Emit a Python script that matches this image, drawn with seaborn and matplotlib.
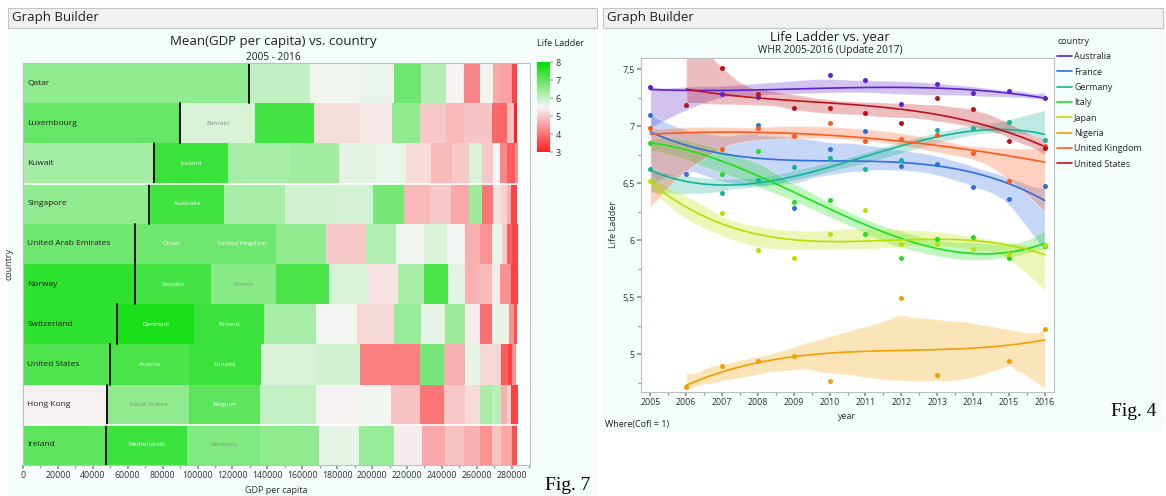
import numpy as np
import pandas as pd
import matplotlib
matplotlib.use("Agg")
import matplotlib.pyplot as plt
import seaborn as sns
from matplotlib.colors import LinearSegmentedColormap, TwoSlopeNorm
from matplotlib.patches import Rectangle
from matplotlib.lines import Line2D
from matplotlib.collections import PolyCollection
from matplotlib.ticker import MultipleLocator, FuncFormatter
import matplotlib.cm as cm

# ---------------- Left chart data (GDP per capita in thousands, Life Ladder) ----------------
row_countries = ["Qatar", "Luxembourg", "Kuwait", "Singapore", "United Arab Emirates",
                 "Norway", "Switzerland", "United States", "Hong Kong", "Ireland"]

gdp_qatar = [129.3, 35.4, 27.6, 20.5, 15.5, 14.3, 10.3, 8.8, 7.4, 4.4, 6.9, 2.7]
ll_qatar = [6.53, 6.01, 5.55, 5.61, 6.86, 6.15, 5.45, 4.23, 5.55, 4.63, 4.51, 3.44]
gdp_luxembourg = [90.1, 43.0, 33.4, 26.8, 18.2, 15.8, 14.9, 10.3, 16.5, 8.4, 4.0, 1.9]
ll_luxembourg = [6.96, 5.8, 7.3, 5.21, 5.33, 6.53, 4.98, 4.8, 4.95, 3.86, 4.9, 3.05]
gdp_kuwait = [75.2, 42.5, 34.7, 28.5, 21.6, 17.2, 14.3, 12.0, 9.8, 7.4, 6.2, 4.1, 3.9, 4.7, 1.6]
ll_kuwait = [6.32, 7.39, 6.3, 6.35, 5.68, 5.6, 5.2, 4.8, 4.98, 5.8, 4.98, 5.5, 4.23, 3.76, 4.35]
gdp_singapore = [72.2, 43.2, 34.9, 27.7, 22.6, 17.5, 15.3, 12.1, 10.3, 7.3, 6.3, 4.7, 3.3, 2.4, 3.5]
ll_singapore = [6.53, 7.33, 6.3, 5.88, 5.85, 6.8, 4.8, 4.98, 4.6, 6.4, 4.05, 5.27, 5.1, 4.7, 3.44]
gdp_uae = [64.4, 41.8, 39.0, 28.6, 22.8, 17.3, 16.1, 13.2, 10.3, 8.6, 6.9, 5.5, 2.9, 3.0, 3.1]
ll_uae = [6.86, 6.86, 6.86, 6.53, 4.98, 6.2, 5.55, 5.8, 5.52, 4.7, 4.35, 5.65, 4.98, 3.76, 3.5]
gdp_norway = [64.0, 43.9, 37.3, 30.3, 22.0, 17.4, 15.1, 13.6, 9.9, 8.0, 7.3, 4.7, 6.3, 3.9]
ll_norway = [7.53, 7.3, 6.62, 7.25, 5.8, 5.27, 6.3, 7.22, 5.68, 4.7, 4.8, 5.42, 4.35, 3.4]
gdp_switzerland = [53.9, 44.3, 39.7, 30.2, 23.3, 21.4, 15.3, 13.9, 11.5, 8.6, 6.9, 9.3, 2.9, 1.9]
ll_switzerland = [7.53, 7.73, 7.39, 6.3, 5.52, 5.15, 6.45, 5.62, 6.4, 5.42, 3.96, 5.65, 4.35, 3.6]
gdp_us = [50.0, 44.9, 41.7, 31.5, 25.2, 34.4, 13.7, 12.1, 8.6, 12.0, 3.6, 2.7, 2.3]
ll_us = [7.18, 7.25, 7.39, 5.8, 5.9, 4.15, 6.78, 4.7, 5.65, 5.15, 3.76, 3.4, 4.35]
gdp_hongkong = [48.1, 47.2, 40.7, 32.1, 25.2, 17.6, 16.8, 13.7, 12.1, 8.6, 6.7, 5.3, 3.3, 2.4, 4.1]
ll_hongkong = [5.45, 6.53, 7.05, 6.0, 5.45, 5.55, 4.9, 4.05, 4.98, 5.18, 6.3, 6.1, 4.7, 5.1, 3.4]
gdp_ireland = [47.3, 46.9, 41.8, 33.4, 22.9, 20.5, 15.9, 13.3, 10.5, 9.6, 6.9, 5.1, 6.3, 2.7]
ll_ireland = [7.05, 7.39, 6.68, 6.53, 5.65, 6.45, 5.42, 4.6, 4.9, 4.7, 4.35, 4.9, 4.62, 3.6]

inner_labels = [[], ["Bahrain"], ["Iceland"], ["Australia"], ["Oman", "United Kingdom"],
                ["Sweden", "France"], ["Denmark", "Finland"], ["Austria", "Canada"],
                ["Saudi Arabia", "Belgium"], ["Netherlands", "Germany"]]

row_gdp = [gdp_qatar, gdp_luxembourg, gdp_kuwait, gdp_singapore, gdp_uae,
           gdp_norway, gdp_switzerland, gdp_us, gdp_hongkong, gdp_ireland]
row_ll = [ll_qatar, ll_luxembourg, ll_kuwait, ll_singapore, ll_uae,
          ll_norway, ll_switzerland, ll_us, ll_hongkong, ll_ireland]

gdp_ticks = list(range(0, 280001, 20000))
ll_ticks = [3, 4, 5, 6, 7, 8]

# ---------------- Right chart data (Life Ladder by year) ----------------
nan = np.nan
years = [2005, 2006, 2007, 2008, 2009, 2010, 2011, 2012, 2013, 2014, 2015, 2016]
australia = [7.345, nan, 7.287, 7.257, nan, 7.453, 7.409, 7.199, 7.368, 7.292, 7.313, 7.251]
france = [7.096, 6.585, nan, 7.009, 6.287, 6.80, 6.962, 6.655, 6.673, 6.471, 6.363, 6.48]
germany = [6.623, nan, 6.418, 6.526, 6.643, 6.725, 6.626, 6.705, 6.971, 6.988, 7.041, 6.877]
italy = [6.857, nan, 6.579, 6.784, 6.339, 6.357, 6.058, 5.842, 6.012, 6.029, 5.848, 5.95]
japan = [6.518, nan, 6.24, 5.912, 5.848, 6.058, 6.266, 5.97, 5.965, 5.924, 5.883, 5.956]
nigeria = [nan, 4.713, 4.895, 4.944, 4.982, 4.763, nan, 5.497, 4.822, nan, 4.939, 5.222]
united_kingdom = [6.985, nan, 6.804, 6.988, 6.912, 7.032, 6.874, 6.886, 6.921, 6.763, 6.518, 6.827]
united_states = [nan, 7.184, 7.515, 7.28, 7.16, 7.164, 7.12, 7.029, 7.251, 7.155, 6.868, 6.807]

series_names = ["Australia", "France", "Germany", "Italy", "Japan", "Nigeria",
                "United Kingdom", "United States"]
series_values = [australia, france, germany, italy, japan, nigeria, united_kingdom, united_states]
series_colors = ["#5a24cc", "#2f6fe0", "#15b398", "#1ee01e", "#b8e000", "#f0a000",
                 "#ff5a1e", "#c0101a"]

# ---------------- Figure ----------------
sns.set_theme(style="white")
plt.rcParams['font.family'] = ['Open Sans', 'DejaVu Sans']

W, H = 1166, 496
fig = plt.figure(figsize=(W / 100, H / 100), dpi=100)
fig.patch.set_facecolor('white')


def fx(x):
    return x / W


def fy(y):
    return 1 - y / H


def box(x0, y0, x1, y1, fc, ec='none', lw=0.0):
    fig.add_artist(Rectangle((fx(x0), fy(y1)), (x1 - x0) / W, (y1 - y0) / H,
                             transform=fig.transFigure, facecolor=fc, edgecolor=ec,
                             linewidth=lw, zorder=-10))


box(8, 28, 597, 496, '#f5fcfc')
box(8, 8, 597, 28, '#f0f0f0', '#c4c4c4', 0.8)
box(603, 28, 1163, 432, '#f5fcfc')
box(603, 8, 1163, 28, '#f0f0f0', '#c4c4c4', 0.8)
fig.text(fx(12), fy(18), "Graph Builder", fontsize=9.5, ha='left', va='center', color='#202020')
fig.text(fx(607), fy(18), "Graph Builder", fontsize=9.5, ha='left', va='center', color='#202020')

# ---------------- Left chart ----------------
cmap = LinearSegmentedColormap.from_list('rwg', ['#ff1e1e', '#f5f5f5', '#00dc00'])
norm = TwoSlopeNorm(vmin=3, vcenter=5.5, vmax=8)

ax1 = fig.add_axes([fx(23), fy(465), (530 - 23) / W, (465 - 63) / H])
ax1.set_facecolor('white')
for i, (name, widths, vals, inner) in enumerate(zip(row_countries, row_gdp, row_ll, inner_labels)):
    w = np.array(widths) * 1000.0
    left = np.concatenate([[0.0], np.cumsum(w)[:-1]])
    ax1.barh(i, w, left=left, height=1.0, color=cmap(norm(np.array(vals))), edgecolor='none')
    ax1.plot([w[0], w[0]], [i - 0.5, i + 0.5], color='black', lw=1.3)
    ax1.text(2500, i, name, ha='left', va='center', fontsize=6, color='#202020')
    for k, lab in enumerate(inner, start=1):
        col = '#f0fff0' if vals[k] > 6.7 else '#8a8a8a'
        ax1.text(left[k] + w[k] / 2, i, lab, ha='center', va='center', fontsize=4.6, color=col)
for sep in (2.5, 8.5):
    ax1.axhline(sep, color='white', lw=1.2)

ax1.set_xlim(0, 290500)
ax1.set_ylim(9.5, -0.5)
ax1.set_yticks([])
ax1.set_xticks(gdp_ticks)
ax1.xaxis.set_minor_locator(MultipleLocator(10000))
ax1.xaxis.set_major_formatter(FuncFormatter(lambda v, p: f"{int(v)}"))
ax1.tick_params(axis='x', which='major', labelsize=6.3, length=3, color='#909090', pad=1.5,
                labelcolor='#303030', bottom=True)
ax1.tick_params(axis='x', which='minor', length=2, color='#a0a0a0', bottom=True)
for s in ax1.spines.values():
    s.set_color('#b8c0c0')
    s.set_linewidth(0.8)
ax1.set_xlabel("GDP per capita", fontsize=6.5, color='#303030')
ax1.xaxis.set_label_coords(0.5, -0.052)
ax1.set_ylabel("country", fontsize=6.5, color='#303030')
ax1.yaxis.set_label_coords(-0.018, 0.5)

fig.text(fx(273), fy(41), "Mean(GDP per capita) vs. country", fontsize=9.5, ha='center',
         va='center', color='#202020')
fig.text(fx(273), fy(57), "2005 - 2016", fontsize=7.3, ha='center', va='center', color='#202020')

cax = fig.add_axes([fx(537), fy(152), 13 / W, 90 / H])
cb = fig.colorbar(cm.ScalarMappable(norm=norm, cmap=cmap), cax=cax, ticks=ll_ticks)
cb.outline.set_visible(False)
cb.ax.tick_params(labelsize=6.5, length=2, color='#c0c0c0', pad=2, labelcolor='#303030')
fig.text(fx(537), fy(43), "Life Ladder", fontsize=6.5, ha='left', va='center', color='#202020')

fig.text(fx(568), fy(486), "Fig. 7", family='Liberation Serif', fontsize=14, ha='center',
         va='center', color='black')

# ---------------- Right chart ----------------
ax2 = fig.add_axes([fx(641), fy(392), (1054 - 641) / W, (392 - 58) / H])
ax2.set_facecolor('white')
for name, vals, col in zip(series_names, series_values, series_colors):
    df = pd.DataFrame({'year': years, 'll': vals}).dropna()
    n_before = len(ax2.collections)
    sns.regplot(data=df, x='year', y='ll', order=3, ci=68, n_boot=1000, seed=1, color=col,
                truncate=True,
                scatter_kws=dict(s=13, alpha=1, zorder=4, linewidths=0),
                line_kws=dict(lw=1.2, zorder=3), ax=ax2)
    for coll in ax2.collections[n_before:]:
        if isinstance(coll, PolyCollection):
            coll.set_alpha(0.28)
            coll.set_zorder(1)

ax2.set_xlim(2004.74, 2016.26)
ax2.set_ylim(4.67, 7.6)
ax2.set_xticks(years)
ax2.xaxis.set_minor_locator(MultipleLocator(0.5))
ax2.set_yticks([5, 5.5, 6, 6.5, 7, 7.5])
ax2.yaxis.set_minor_locator(MultipleLocator(0.25))
ax2.yaxis.set_major_formatter(FuncFormatter(lambda v, p: f"{v:g}".replace('.', ',')))
ax2.tick_params(axis='both', which='major', labelsize=6.3, length=3, color='#909090', pad=1.5,
                labelcolor='#303030', bottom=True, left=True)
ax2.tick_params(axis='both', which='minor', length=2, color='#a0a0a0', bottom=True, left=True)
for s in ax2.spines.values():
    s.set_color('#b8c0c0')
    s.set_linewidth(0.8)
ax2.set_xlabel("year", fontsize=6.5, color='#303030')
ax2.xaxis.set_label_coords(0.5, -0.06)
ax2.set_ylabel("Life Ladder", fontsize=6.5, color='#303030')
ax2.yaxis.set_label_coords(-0.055, 0.5)

fig.text(fx(830), fy(37), "Life Ladder vs. year", fontsize=9.5, ha='center', va='center',
         color='#202020')
fig.text(fx(830), fy(50), "WHR 2005-2016 (Update 2017)", fontsize=7.3, ha='center',
         va='center', color='#202020')

handles = [Line2D([0], [0], color=c, lw=1.2) for c in series_colors]
leg = fig.legend(handles, series_names, title="country", loc='upper left',
                 bbox_to_anchor=(fx(1057), fy(37)), frameon=False, fontsize=6.5,
                 title_fontsize=6.5, handlelength=1.7, handletextpad=0.2, labelspacing=0.7,
                 borderaxespad=0, borderpad=0)
leg._legend_box.align = "left"

fig.text(fx(605), fy(425), "Where(Cofl = 1)", fontsize=6.5, ha='left', va='center',
         color='#202020')
fig.text(fx(1134), fy(411), "Fig. 4", family='Liberation Serif', fontsize=14, ha='center',
         va='center', color='black')

fig.savefig("out.png", dpi=100)
